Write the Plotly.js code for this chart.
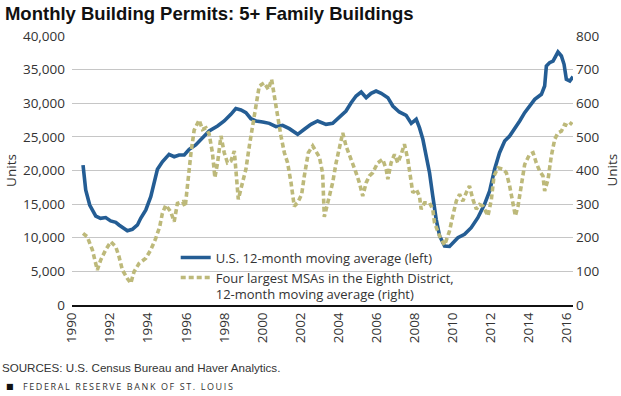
<!DOCTYPE html>
<html>
<head>
<meta charset="utf-8">
<script src="https://cdn.plot.ly/plotly-3.0.1.min.js"></script>
<style>html,body{margin:0;padding:0;background:#fff;}#chart{width:621px;height:396px;}</style>
</head>
<body>
<div id="chart"></div>
<script>
// U.S. 12-month moving average (left axis, units)
const usYears = [1990.58,1990.72,1990.93,1991.25,1991.50,1991.77,1992.03,1992.30,1992.47,1992.74,1992.91,1993.17,1993.44,1993.61,1993.88,1994.14,1994.32,1994.49,1994.75,1995.10,1995.37,1995.63,1995.90,1996.16,1996.50,1996.86,1997.21,1997.65,1998.00,1998.35,1998.61,1998.88,1999.14,1999.40,1999.67,2000.02,2000.37,2000.72,2001.07,2001.42,2001.86,2002.21,2002.56,2002.91,2003.35,2003.70,2004.05,2004.40,2004.67,2004.93,2005.20,2005.46,2005.72,2005.98,2006.25,2006.60,2006.86,2007.20,2007.56,2007.83,2008.09,2008.26,2008.44,2008.61,2008.79,2008.96,2009.14,2009.32,2009.58,2009.84,2010.10,2010.28,2010.63,2010.98,2011.33,2011.68,2011.95,2012.21,2012.47,2012.74,2013.00,2013.26,2013.53,2013.79,2014.05,2014.32,2014.67,2014.84,2014.93,2015.10,2015.28,2015.54,2015.72,2015.86,2015.98,2016.16,2016.33];
const usValues = [20800,17100,14870,13230,12890,13000,12500,12300,11900,11400,11050,11250,11900,12900,14130,16100,18100,20180,21300,22400,22050,22300,22300,23150,23800,24850,25870,26620,27360,28350,29200,29000,28600,27700,27360,27210,27010,26510,26720,26220,25380,26130,26870,27360,26870,27010,27850,28850,30080,31080,31670,30830,31480,31820,31480,30830,29590,28700,28210,27010,27610,26370,24640,22160,19670,16210,12740,10260,8770,8700,9520,10010,10510,11500,12980,14970,16950,20180,22650,24390,25130,26130,27360,28600,29590,30580,31330,32560,35540,36030,36280,37620,37030,35790,33560,33310,33950];

// Four largest MSAs in the Eighth District, 12-month moving average (right axis)
const msaYears = [1990.58,1990.80,1991.07,1991.33,1991.51,1991.77,1992.04,1992.30,1992.47,1992.65,1992.91,1993.09,1993.26,1993.53,1993.88,1994.14,1994.40,1994.61,1994.75,1994.93,1995.19,1995.37,1995.54,1995.81,1995.95,1996.07,1996.25,1996.42,1996.68,1996.86,1997.04,1997.21,1997.38,1997.51,1997.65,1997.83,1998.00,1998.17,1998.35,1998.53,1998.67,1998.74,1998.96,1999.14,1999.32,1999.49,1999.67,1999.84,2000.10,2000.32,2000.49,2000.63,2000.81,2000.98,2001.16,2001.33,2001.51,2001.68,2001.86,2002.07,2002.21,2002.42,2002.65,2002.82,2003.00,2003.17,2003.26,2003.44,2003.70,2003.88,2004.05,2004.23,2004.40,2004.58,2004.75,2004.93,2005.10,2005.28,2005.46,2005.63,2005.80,2006.07,2006.33,2006.51,2006.60,2006.77,2006.95,2007.12,2007.30,2007.47,2007.65,2007.74,2007.91,2008.09,2008.26,2008.35,2008.53,2008.79,2008.96,2009.05,2009.32,2009.58,2009.84,2010.00,2010.20,2010.37,2010.54,2010.72,2010.89,2011.07,2011.25,2011.42,2011.60,2011.86,2012.04,2012.18,2012.39,2012.65,2012.83,2013.00,2013.18,2013.30,2013.44,2013.62,2013.79,2014.05,2014.23,2014.40,2014.58,2014.75,2014.84,2015.02,2015.19,2015.37,2015.54,2015.72,2015.89,2016.11,2016.28];
const msaValues = [213,203,164,104,134,164,188,173,144,104,79,65,99,124,139,164,198,233,273,297,277,248,302,307,292,362,451,520,550,522,527,508,453,379,423,503,453,423,428,458,374,314,364,404,473,532,592,651,661,641,671,622,552,503,453,423,364,294,304,329,384,453,473,458,440,393,262,304,364,423,463,512,473,448,423,393,364,324,364,384,393,423,433,404,374,423,448,423,448,478,433,393,334,344,324,285,304,304,285,245,205,178,220,262,310,329,309,334,354,314,285,299,294,265,314,384,408,404,393,354,304,265,294,364,418,448,453,423,398,384,339,374,443,493,512,517,537,532,544];

const xTickVals = [1990,1992,1994,1996,1998,2000,2002,2004,2006,2008,2010,2012,2014,2016];
const xTickText = ["1990","1992","1994","1996","1998","2000","2002","2004","2006","2008","2010","2012","2014","2016"];

const titleText = "Monthly Building Permits: 5+ Family Buildings";
const usName = "U.S. 12-month moving average (left)";
const msaName = "Four largest MSAs in the Eighth District,<br>12-month moving average (right)";

const tickFont = {family: "Open Sans, sans-serif", size: 13.5, color: "#333333"};

const traces = [
  {
    x: usYears, y: usValues, name: usName, type: "scatter", mode: "lines",
    line: {color: "#245d94", width: 3.6}, yaxis: "y"
  },
  {
    x: msaYears, y: msaValues, name: msaName, type: "scatter", mode: "lines",
    line: {color: "#bdb97a", width: 3.6, dash: "5px,3px"}, yaxis: "y2"
  }
];

const layout = {
  width: 621, height: 396,
  paper_bgcolor: "#ffffff", plot_bgcolor: "#ffffff",
  margin: {l: 72, r: 48, t: 36, b: 91},
  showlegend: true,
  title: {
    text: "<b>" + titleText + "</b>",
    xref: "container", yref: "container", x: 0.008, xanchor: "left", y: 0.965, yanchor: "middle",
    font: {family: "Liberation Sans Narrow, Arial Narrow, sans-serif", size: 18.5, color: "#111111"}
  },
  xaxis: {
    range: [1990, 2016.33], tickvals: xTickVals, ticktext: xTickText, tickangle: -90,
    ticks: "", showgrid: false, zeroline: false, showline: true, linecolor: "#111111", linewidth: 2,
    tickfont: tickFont, fixedrange: true
  },
  yaxis: {
    range: [0, 40000], dtick: 5000, tickformat: ",", ticks: "", showgrid: true,
    gridcolor: "#c6c6c6", gridwidth: 1, zeroline: false, showline: false,
    tickfont: tickFont, ticklabelstandoff: 6
  },
  yaxis2: {
    range: [0, 800], dtick: 100, overlaying: "y", side: "right", ticks: "", showgrid: false,
    zeroline: false, showline: false, tickfont: tickFont, ticklabelstandoff: 2
  },
  legend: {
    x: 0.207, xanchor: "left", y: 0.232, yanchor: "top",
    bgcolor: "rgba(0,0,0,0)", borderwidth: 0, tracegroupgap: 4, itemwidth: 30,
    valign: "top",
    font: {family: "Open Sans, sans-serif", size: 13, color: "#333333"}
  },
  annotations: [
    {text: "Units", textangle: -90, xref: "paper", yref: "paper", x: -0.123, y: 0.5,
     xanchor: "center", yanchor: "middle", showarrow: false, font: tickFont},
    {text: "Units", textangle: -90, xref: "paper", yref: "paper", x: (611-72)/501, y: 0.5,
     xanchor: "center", yanchor: "middle", showarrow: false, font: tickFont},
    {text: "SOURCES: U.S. Census Bureau and Haver Analytics.", xref: "paper", yref: "paper",
     x: -72/501, y: -(367-305)/269, xanchor: "left", yanchor: "middle", showarrow: false,
     font: {family: "Liberation Sans, Arial, sans-serif", size: 11.6, color: "#333333"}},
    {text: "■", xref: "paper", yref: "paper",
     x: -68/501, y: -(386-305)/269, xanchor: "left", yanchor: "middle", showarrow: false,
     font: {family: "DejaVu Sans, sans-serif", size: 8, color: "#111111"}},
    {text: '<span style="letter-spacing:1.6px">FEDERAL RESERVE BANK OF ST. LOUIS</span>', xref: "paper", yref: "paper",
     x: -51/501, y: -(386-305)/269, xanchor: "left", yanchor: "middle", showarrow: false,
     font: {family: "Open Sans, sans-serif", size: 9, color: "#333333"}}
  ]
};

Plotly.newPlot("chart", traces, layout, {staticPlot: true, displayModeBar: false});
</script>
</body>
</html>
